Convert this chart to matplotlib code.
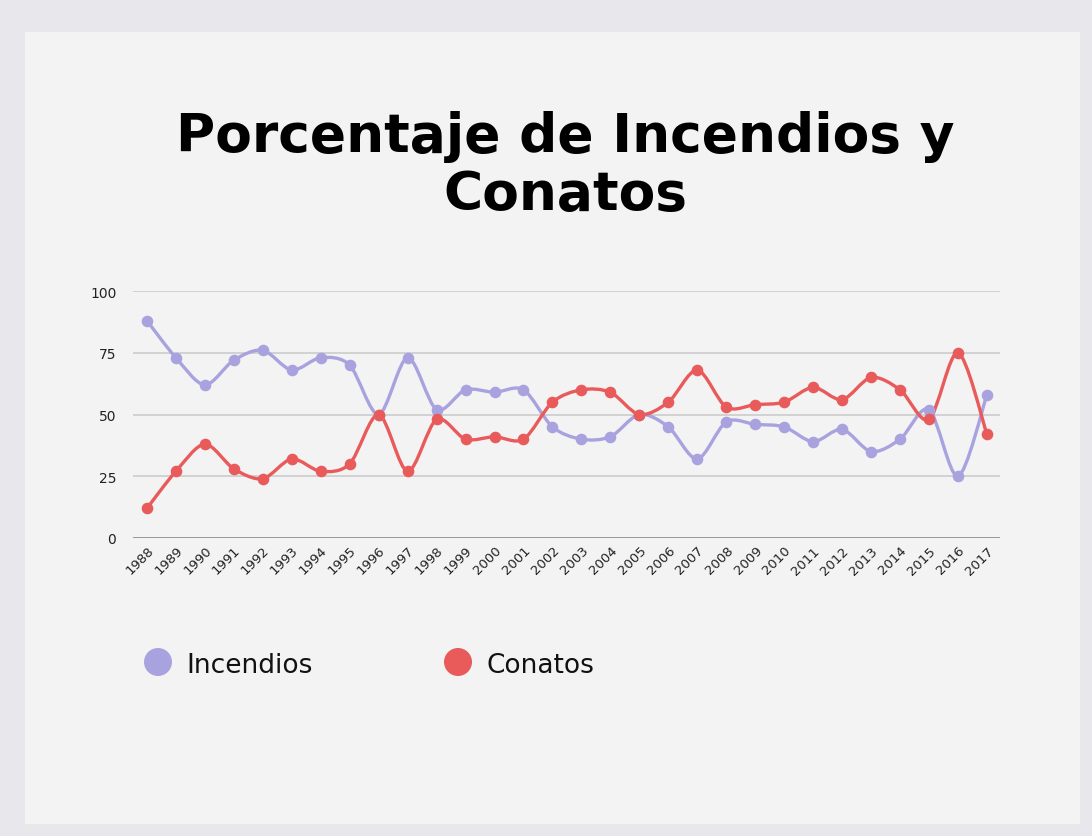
"""
Porcentaje de Incendios y Conatos, 1988-2017.
"""

import numpy as np
import matplotlib
matplotlib.use('Agg')
import matplotlib.pyplot as plt
from matplotlib.path import Path
from matplotlib.patches import PathPatch, Rectangle, Ellipse

years = list(range(1988, 2018))
incendios = [88, 73, 62, 72, 76, 68, 73, 70, 50, 73, 52, 60, 59, 60, 45,
             40, 41, 50, 45, 32, 47, 46, 45, 39, 44, 35, 40, 52, 25, 58]
conatos = [12, 27, 38, 28, 24, 32, 27, 30, 50, 27, 48, 40, 41, 40, 55,
           60, 59, 50, 55, 68, 53, 54, 55, 61, 56, 65, 60, 48, 75, 42]
y_ticks = [0, 25, 50, 75, 100]

PURPLE = '#a8a2df'
RED = '#e95a5a'


def smooth_path(xs, ys, tension=0.45):
    """Cardinal spline through the points as cubic bezier segments."""
    xs = np.asarray(xs, float)
    ys = np.asarray(ys, float)
    n = len(xs)
    verts = [(xs[0], ys[0])]
    codes = [Path.MOVETO]
    for i in range(n - 1):
        p0 = i - 1 if i > 0 else i
        p3 = i + 2 if i + 2 < n else i + 1
        t1x = (xs[i + 1] - xs[p0]) * tension / 3
        t1y = (ys[i + 1] - ys[p0]) * tension / 3
        t2x = (xs[p3] - xs[i]) * tension / 3
        t2y = (ys[p3] - ys[i]) * tension / 3
        verts += [(xs[i] + t1x, ys[i] + t1y),
                  (xs[i + 1] - t2x, ys[i + 1] - t2y),
                  (xs[i + 1], ys[i + 1])]
        codes += [Path.CURVE4] * 3
    return Path(verts, codes)


fig = plt.figure(figsize=(10.92, 8.37), dpi=100)
fig.patch.set_facecolor('#e8e8ec')
fig.add_artist(Rectangle((25 / 1092, 1 - 825 / 837), 1055 / 1092, 792 / 837,
                         transform=fig.transFigure, facecolor='#f3f3f3',
                         edgecolor='none', zorder=-5))

# Title
title_kw = dict(ha='center', va='center', fontsize=38.5, fontweight='bold',
                family='DejaVu Sans', color='black')
fig.text(0.518, 1 - 137 / 837, 'Porcentaje de Incendios y', **title_kw)
fig.text(0.518, 1 - 195 / 837, 'Conatos', **title_kw)

ax = fig.add_axes([133 / 1092, 1 - 539 / 837, 867 / 1092, 247 / 837])
ax.set_facecolor('none')
ax.set_zorder(2)

for vals, color in [(incendios, PURPLE), (conatos, RED)]:
    ax.add_patch(PathPatch(smooth_path(years, vals), facecolor='none',
                           edgecolor=color, linewidth=2.4, zorder=3,
                           capstyle='round'))
    ax.scatter(years, vals, s=70, color=color, zorder=4, linewidths=0)

ax.set_xlim(1987.52, 2017.45)
ax.set_ylim(0, 100)
ax.set_yticks(y_ticks)
ax.set_xticks(years)
ax.set_xticklabels([str(y) for y in years], rotation=45, ha='right',
                   rotation_mode='anchor', fontsize=9.5, family='DejaVu Sans')
ax.set_yticklabels([str(v) for v in y_ticks], fontsize=10, family='DejaVu Sans')
ax.tick_params(length=0, pad=12, colors='#222222')
ax.tick_params(axis='x', pad=4)
for v in y_ticks[1:]:
    ax.axhline(v, color='#cccccc', linewidth=1.2, zorder=1)
ax.axhline(0, color='#999999', linewidth=1.4, zorder=1)
for s in ax.spines.values():
    s.set_visible(False)

# Legend
for cx, color, label, tx in [(158, PURPLE, 'Incendios', 186), (458, RED, 'Conatos', 487)]:
    fig.add_artist(Ellipse((cx / 1092, 1 - 663 / 837), 28 / 1092, 28 / 837,
                           transform=fig.transFigure, facecolor=color,
                           edgecolor='none', zorder=3))
    fig.text(tx / 1092, 1 - 666 / 837, label, ha='left', va='center',
             fontsize=19, family='DejaVu Sans', color='#111111')

plt.savefig('out.png', dpi=100)
plt.close()
